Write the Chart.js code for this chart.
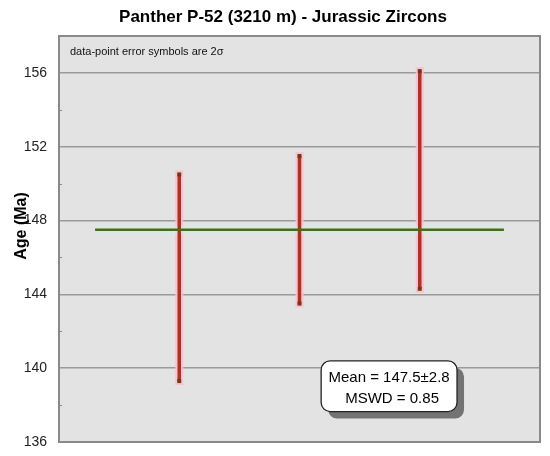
<!DOCTYPE html>
<html lang="en">
<head>
  <meta charset="UTF-8" />
  <title>Panther P-52 Jurassic Zircons</title>
  <script src="https://cdn.jsdelivr.net/npm/chart.js"></script>
  <style>
    html, body { margin: 0; padding: 0; background: #fff; }
    #wrap { width: 550px; height: 456px; }
  </style>
</head>
<body>
  <div id="wrap"><canvas id="ageChart" width="550" height="456"></canvas></div>
  <script>
    // data
    const sampleX = [1, 2, 3];
    const ageLow = [139.3, 143.5, 144.3];
    const ageHigh = [150.5, 151.5, 156.1];
    const meanAge = 147.5;
    const meanSpan = [0.3, 3.7];
    const yMin = 136, yMax = 158;
    const yLabels = [136, 140, 144, 148, 152, 156];
    const titleText = 'Panther P-52 (3210 m) - Jurassic Zircons';
    const noteText = 'data-point error symbols are 2\u03c3';
    const boxLines = ['Mean = 147.5\u00b12.8', 'MSWD = 0.85'];

    const FONT = "'Liberation Sans', Arial, sans-serif";

    const datasets = [];
    // mean line (glow + line), drawn over the bars
    const meanPts = meanSpan.map(x => ({ x, y: meanAge }));
    datasets.push({ data: meanPts, borderColor: 'rgba(205,238,225,0.6)', borderWidth: 9, pointRadius: 0, order: 2 });
    datasets.push({ data: meanPts, borderColor: '#4d6a12', borderWidth: 2.5, pointRadius: 0, order: 0 });
    // error bars: pink glow, then red bar with small caps
    sampleX.forEach((x, i) => {
      const pts = [{ x, y: ageLow[i] }, { x, y: ageHigh[i] }];
      datasets.push({ data: pts, borderColor: 'rgba(252,190,210,0.9)', borderWidth: 8, borderCapStyle: 'square', pointRadius: 0, order: 3 });
      datasets.push({
        data: pts, borderColor: '#ad331b', borderWidth: 3.5, order: 1,
        pointStyle: 'rect', pointRadius: 2.8, pointBackgroundColor: '#6a3c12', pointBorderWidth: 0
      });
    });

    const decorPlugin = {
      id: 'decor',
      beforeDatasetsDraw(chart) {
        const { ctx, chartArea: a, scales: { y } } = chart;
        ctx.save();
        // minor tick marks inside the left edge
        ctx.strokeStyle = '#888';
        ctx.lineWidth = 1;
        for (let v = yMin + 2; v < yMax; v += 4) {
          const py = Math.round(y.getPixelForValue(v)) + 0.5;
          ctx.beginPath(); ctx.moveTo(a.left, py); ctx.lineTo(a.left + 3, py); ctx.stroke();
        }
        ctx.restore();
      },
      afterDraw(chart) {
        const { ctx, chartArea: a, scales: { x, y } } = chart;
        ctx.save();
        // title
        ctx.fillStyle = '#000';
        ctx.font = 'bold 17px ' + FONT;
        ctx.textAlign = 'center';
        ctx.textBaseline = 'middle';
        ctx.fillText(titleText, 283, 17);
        // axis title
        ctx.save();
        ctx.translate(22, 226);
        ctx.rotate(-Math.PI / 2);
        ctx.font = 'bold 16px ' + FONT;
        ctx.fillText('Age (Ma)', 0, 0);
        ctx.restore();
        // note
        ctx.font = '11px ' + FONT;
        ctx.textAlign = 'left';
        ctx.fillStyle = '#111';
        ctx.fillText(noteText, a.left + 11, 52);
        // mean box
        const bx = x.getPixelForValue(2.18), bx2 = x.getPixelForValue(3.31);
        const by = y.getPixelForValue(140.4), by2 = y.getPixelForValue(137.65);
        const w = bx2 - bx, h = by2 - by;
        ctx.fillStyle = '#737373';
        ctx.beginPath(); ctx.roundRect(bx + 7, by + 7, w, h, 9); ctx.fill();
        ctx.fillStyle = '#fff';
        ctx.strokeStyle = '#222';
        ctx.lineWidth = 1.3;
        ctx.beginPath(); ctx.roundRect(bx, by, w, h, 9); ctx.fill(); ctx.stroke();
        ctx.fillStyle = '#000';
        ctx.font = '15px ' + FONT;
        ctx.textAlign = 'center';
        ctx.fillText(boxLines[0], bx + w / 2, by + 17);
        ctx.fillText(boxLines[1], bx + w / 2 + 3, by + 38);
        ctx.restore();
      }
    };

    const bgPlugin = {
      id: 'plotBg',
      beforeDraw(chart) {
        const { ctx, chartArea: a } = chart;
        ctx.save();
        ctx.fillStyle = '#e3e3e3';
        ctx.fillRect(a.left, a.top, a.right - a.left, a.bottom - a.top);
        ctx.restore();
      },
      afterDatasetsDraw(chart) {
        const { ctx, chartArea: a } = chart;
        ctx.save();
        ctx.strokeStyle = '#8a8a8a';
        ctx.lineWidth = 2;
        ctx.strokeRect(a.left, a.top, a.right - a.left, a.bottom - a.top);
        ctx.restore();
      }
    };

    new Chart(document.getElementById('ageChart'), {
      type: 'line',
      data: { datasets },
      options: {
        responsive: false,
        animation: false,
        layout: { padding: { top: 36, bottom: 14, right: 10, left: 0 } },
        plugins: { legend: { display: false }, tooltip: { enabled: false } },
        scales: {
          x: { type: 'linear', min: 0, max: 4, display: false },
          y: {
            min: yMin, max: yMax,
            afterFit(scale) {
              scale.width = 59;
              scale.paddingTop = 0;
              scale.paddingBottom = 0;
            },
            afterBuildTicks(scale) { scale.ticks = yLabels.map(v => ({ value: v })); },
            ticks: { color: '#222', font: { family: FONT, size: 14 }, padding: 12 },
            grid: { color: '#9a9a9a', lineWidth: 1.5, drawTicks: false },
            border: { display: false }
          }
        }
      },
      plugins: [bgPlugin, decorPlugin]
    });
  </script>
</body>
</html>
